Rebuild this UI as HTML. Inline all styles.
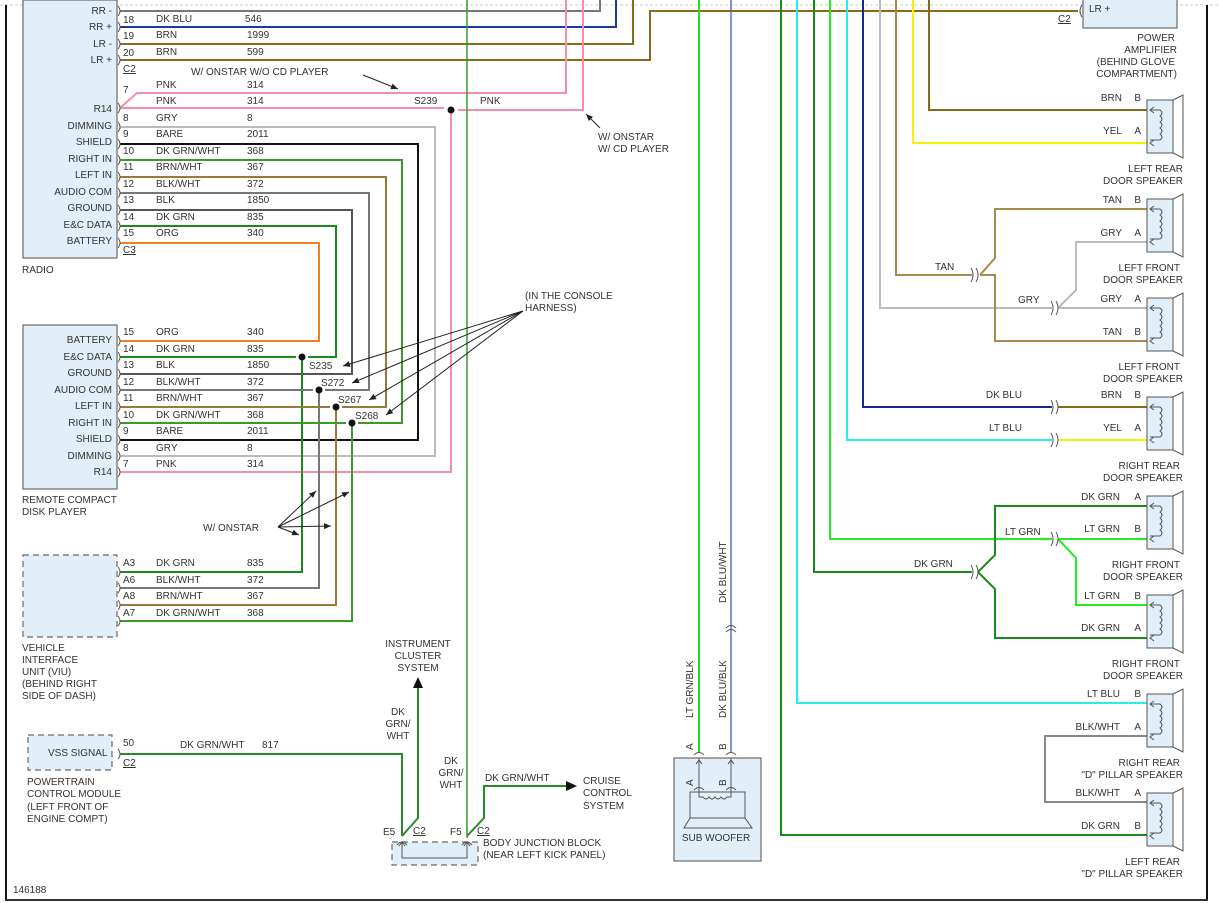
<!DOCTYPE html>
<html><head><meta charset="utf-8"><style>
html,body{margin:0;padding:0;background:#fff}
svg{display:block}
text{font-family:"Liberation Sans",sans-serif;font-size:10px;fill:#333}
.w{fill:none;stroke-width:2}
.c{fill:none;stroke:#555;stroke-width:1}
.box{fill:#e2eff8;stroke:#6a6a6a;stroke-width:1.2}
.dbox{fill:#e2eff8;stroke:#6a6a6a;stroke-width:1.2;stroke-dasharray:6 4}
.r{text-anchor:end}
.m{text-anchor:middle}
</style></head><body>
<svg width="1219" height="903" viewBox="0 0 1219 903" xmlns="http://www.w3.org/2000/svg">
<defs>
<marker id="ar" markerWidth="8" markerHeight="8" refX="7" refY="3" orient="auto"><path d="M0,0 L7,3 L0,6 z" fill="#222"/></marker>
<g id="spk"><rect x="0" y="0" width="26" height="53" fill="#e2eff8" stroke="#555"/><path d="M26,0 L36,-5 L36,58 L26,53" fill="none" stroke="#555"/>
<path d="M3,10 h10 q4,3 0,6 q4,3 0,6 q4,3 0,6 q4,3 0,6 q4,3 0,6 h-10" fill="none" stroke="#555"/>
<path d="M7,7 L3,10 L7,13 M7,40 L3,43 L7,46" fill="none" stroke="#555"/></g>
</defs>
<!-- frame -->
<line x1="0" y1="5" x2="1219" y2="5" stroke="#ccc" stroke-dasharray="3 2"/>
<line x1="6" y1="5" x2="6" y2="900" stroke="#111" stroke-width="2"/>
<line x1="1207" y1="5" x2="1207" y2="900" stroke="#111" stroke-width="2"/>
<line x1="5" y1="900" x2="1208" y2="900" stroke="#333" stroke-width="2"/>

<!-- radio -->
<rect class="box" x="23" y="0" width="94" height="258"/>
<g class="r">
<text x="112" y="14">RR -</text><text x="112" y="30">RR +</text><text x="112" y="47">LR -</text><text x="112" y="63">LR +</text>
<text x="112" y="112">R14</text><text x="112" y="129">DIMMING</text><text x="112" y="145">SHIELD</text><text x="112" y="162">RIGHT IN</text>
<text x="112" y="178">LEFT IN</text><text x="112" y="195">AUDIO COM</text><text x="112" y="211">GROUND</text><text x="112" y="228">E&amp;C DATA</text><text x="112" y="244">BATTERY</text>
</g>
<text x="22" y="273">RADIO</text>
<text x="123" y="23">18</text><text x="156" y="22">DK BLU</text><text x="245" y="22">546</text>
<text x="123" y="39">19</text><text x="156" y="38">BRN</text><text x="247" y="38">1999</text>
<text x="123" y="56">20</text><text x="156" y="55">BRN</text><text x="247" y="55">599</text>
<text x="123" y="72" text-decoration="underline">C2</text>
<text x="191" y="75">W/ ONSTAR W/O CD PLAYER</text>
<text x="123" y="93">7</text><text x="156" y="88">PNK</text><text x="247" y="88">314</text>
<text x="156" y="104">PNK</text><text x="247" y="104">314</text><text x="414" y="104">S239</text><text x="480" y="104">PNK</text>
<text x="123" y="121">8</text><text x="156" y="121">GRY</text><text x="247" y="121">8</text>
<text x="123" y="137">9</text><text x="156" y="137">BARE</text><text x="247" y="137">2011</text>
<text x="123" y="154">10</text><text x="156" y="154">DK GRN/WHT</text><text x="247" y="154">368</text>
<text x="123" y="170">11</text><text x="156" y="170">BRN/WHT</text><text x="247" y="170">367</text>
<text x="123" y="187">12</text><text x="156" y="187">BLK/WHT</text><text x="247" y="187">372</text>
<text x="123" y="203">13</text><text x="156" y="203">BLK</text><text x="247" y="203">1850</text>
<text x="123" y="220">14</text><text x="156" y="220">DK GRN</text><text x="247" y="220">835</text>
<text x="123" y="236">15</text><text x="156" y="236">ORG</text><text x="247" y="236">340</text>
<text x="123" y="253" text-decoration="underline">C3</text>
<text x="598" y="140">W/ ONSTAR</text><text x="598" y="152">W/ CD PLAYER</text>

<!-- top wires -->
<path class="w" stroke="#777" d="M120,11 H600 V0"/>
<path class="w" stroke="#1c3a9a" d="M120,27 H616 V0"/>
<path class="w" stroke="#8a6a1a" d="M120,44 H633 V0"/>
<path class="w" stroke="#8a6a1a" d="M120,60 H650 V11 H1078"/>
<path class="w" stroke="#f58fa8" d="M120,108 L137,93 H566 V0"/>
<path class="w" stroke="#f58fa8" d="M120,108 H444 M458,110 H583 V0"/>
<path class="w" stroke="#f58fa8" d="M451,112 V472 H120"/>
<circle cx="451" cy="110" r="3.5" fill="#111"/>
<line x1="363" y1="75" x2="398" y2="89" stroke="#222" marker-end="url(#ar)"/>
<line x1="600" y1="128" x2="586" y2="114" stroke="#222" marker-end="url(#ar)"/>
<path fill="none" stroke="#3a9a2a" style="stroke-width:1.5" d="M467,0 V838"/>

<path class="w" stroke="#bbb" d="M120,127 H435 V456 H120"/>
<path class="w" stroke="#111" d="M120,144 H418 V440 H120"/>
<path class="w" stroke="#3a9a2a" d="M120,160 H402 V423 H358"/>
<path class="w" stroke="#9a7a3a" d="M120,177 H386 V407 H342"/>
<path class="w" stroke="#777" d="M120,193 H369 V390 H325"/>
<path class="w" stroke="#555" d="M120,210 H352 V374 H120"/>
<path class="w" stroke="#1a8a1a" d="M120,226 H336 V357 H308"/>
<path class="w" stroke="#f08020" d="M120,243 H319 V341 H120"/>

<!-- CD player -->
<rect class="box" x="23" y="325" width="94" height="164"/>
<g class="r">
<text x="112" y="343">BATTERY</text><text x="112" y="360">E&amp;C DATA</text><text x="112" y="376">GROUND</text><text x="112" y="393">AUDIO COM</text>
<text x="112" y="409">LEFT IN</text><text x="112" y="426">RIGHT IN</text><text x="112" y="442">SHIELD</text><text x="112" y="459">DIMMING</text><text x="112" y="475">R14</text>
</g>
<text x="22" y="503">REMOTE COMPACT</text><text x="22" y="515">DISK PLAYER</text>
<text x="123" y="335">15</text><text x="156" y="335">ORG</text><text x="247" y="335">340</text>
<text x="123" y="352">14</text><text x="156" y="352">DK GRN</text><text x="247" y="352">835</text>
<text x="123" y="368">13</text><text x="156" y="368">BLK</text><text x="247" y="368">1850</text>
<text x="123" y="385">12</text><text x="156" y="385">BLK/WHT</text><text x="247" y="385">372</text>
<text x="123" y="401">11</text><text x="156" y="401">BRN/WHT</text><text x="247" y="401">367</text>
<text x="123" y="418">10</text><text x="156" y="418">DK GRN/WHT</text><text x="247" y="418">368</text>
<text x="123" y="434">9</text><text x="156" y="434">BARE</text><text x="247" y="434">2011</text>
<text x="123" y="451">8</text><text x="156" y="451">GRY</text><text x="247" y="451">8</text>
<text x="123" y="467">7</text><text x="156" y="467">PNK</text><text x="247" y="467">314</text>
<path class="w" stroke="#1a8a1a" d="M120,357 H296 M302,360 V572 H120"/>
<path class="w" stroke="#777" d="M120,390 H313 M319,393 V588 H120"/>
<path class="w" stroke="#9a7a3a" d="M120,407 H330 M336,410 V605 H120"/>
<path class="w" stroke="#3a9a2a" d="M120,423 H346 M352,426 V621 H120"/>
<circle cx="302" cy="357" r="3.5" fill="#111"/><circle cx="319" cy="390" r="3.5" fill="#111"/>
<circle cx="336" cy="407" r="3.5" fill="#111"/><circle cx="352" cy="423" r="3.5" fill="#111"/>
<text x="309" y="369">S235</text><text x="321" y="386">S272</text><text x="338" y="403">S267</text><text x="355" y="419">S268</text>
<text x="525" y="299">(IN THE CONSOLE</text><text x="525" y="311">HARNESS)</text>
<g stroke="#222" fill="none">
<line x1="523" y1="311" x2="343" y2="366" marker-end="url(#ar)"/>
<line x1="523" y1="311" x2="352" y2="383" marker-end="url(#ar)"/>
<line x1="523" y1="311" x2="369" y2="400" marker-end="url(#ar)"/>
<line x1="523" y1="311" x2="386" y2="415" marker-end="url(#ar)"/>
<line x1="278" y1="527" x2="316" y2="491" marker-end="url(#ar)"/>
<line x1="278" y1="527" x2="349" y2="492" marker-end="url(#ar)"/>
<line x1="278" y1="527" x2="331" y2="526" marker-end="url(#ar)"/>
<line x1="278" y1="527" x2="299" y2="535" marker-end="url(#ar)"/>
</g>
<text x="203" y="531">W/ ONSTAR</text>

<!-- VIU -->
<rect class="dbox" x="23" y="555" width="94" height="82"/>
<text x="123" y="566">A3</text><text x="156" y="566">DK GRN</text><text x="247" y="566">835</text>
<text x="123" y="583">A6</text><text x="156" y="583">BLK/WHT</text><text x="247" y="583">372</text>
<text x="123" y="599">A8</text><text x="156" y="599">BRN/WHT</text><text x="247" y="599">367</text>
<text x="123" y="616">A7</text><text x="156" y="616">DK GRN/WHT</text><text x="247" y="616">368</text>
<text x="22" y="651">VEHICLE</text><text x="22" y="663">INTERFACE</text><text x="22" y="675">UNIT (VIU)</text><text x="22" y="687">(BEHIND RIGHT</text><text x="22" y="699">SIDE OF DASH)</text>

<!-- connectors radio/cd/viu -->
<g class="c">
<path d="M118,6 q4,5 0,10 M118,22 q4,5 0,10 M118,39 q4,5 0,10 M118,55 q4,5 0,10 M118,103 q4,5 0,10 M118,122 q4,5 0,10 M118,139 q4,5 0,10 M118,155 q4,5 0,10 M118,172 q4,5 0,10 M118,188 q4,5 0,10 M118,205 q4,5 0,10 M118,221 q4,5 0,10 M118,238 q4,5 0,10"/>
<path d="M118,336 q4,5 0,10 M118,352 q4,5 0,10 M118,369 q4,5 0,10 M118,385 q4,5 0,10 M118,402 q4,5 0,10 M118,418 q4,5 0,10 M118,435 q4,5 0,10 M118,451 q4,5 0,10 M118,467 q4,5 0,10"/>
<path d="M118,567 q4,5 0,10 M118,583 q4,5 0,10 M118,600 q4,5 0,10 M118,616 q4,5 0,10 M118,749 q4,5 0,10"/>
</g>

<!-- PCM -->
<rect class="dbox" x="28" y="735" width="84" height="35"/>
<text x="48" y="756">VSS SIGNAL</text>
<text x="123" y="746">50</text><text x="123" y="766" text-decoration="underline">C2</text>
<text x="180" y="748">DK GRN/WHT</text><text x="262" y="748">817</text>
<text x="27" y="785">POWERTRAIN</text><text x="27" y="797">CONTROL MODULE</text><text x="27" y="810">(LEFT FRONT OF</text><text x="27" y="822">ENGINE COMPT)</text>
<path class="w" stroke="#2a8a2a" d="M120,754 H402 V836 M402,836 L418,818 V688"/>
<path d="M418,677 L413,688 L423,688 z" fill="#111"/>
<text class="m" x="418" y="647">INSTRUMENT</text><text class="m" x="418" y="659">CLUSTER</text><text class="m" x="418" y="671">SYSTEM</text>
<text class="m" x="398" y="715">DK</text><text class="m" x="398" y="727">GRN/</text><text class="m" x="398" y="739">WHT</text>
<text class="m" x="451" y="764">DK</text><text class="m" x="451" y="776">GRN/</text><text class="m" x="451" y="788">WHT</text>
<path class="w" stroke="#2a8a2a" d="M467,836 L484,818 V786 H566"/>
<path d="M577,786 L566,781 L566,791 z" fill="#111"/>
<text x="485" y="781">DK GRN/WHT</text>
<text x="583" y="784">CRUISE</text><text x="583" y="796">CONTROL</text><text x="583" y="809">SYSTEM</text>
<rect class="dbox" x="392" y="842" width="86" height="23"/>
<path d="M402,842 V858 H467 V842" fill="none" stroke="#555"/>
<path class="c" d="M397,845 q5,-6 10,0 M462,845 q5,-6 10,0 M399,846 L402,842 L405,846 M464,846 L467,842 L470,846"/>
<text x="383" y="835">E5</text><text x="413" y="834" text-decoration="underline">C2</text>
<text x="450" y="835">F5</text><text x="477" y="834" text-decoration="underline">C2</text>
<text x="483" y="846">BODY JUNCTION BLOCK</text><text x="483" y="858">(NEAR LEFT KICK PANEL)</text>
<text x="13" y="893">146188</text>

<!-- right verticals -->
<path class="w" stroke="#22dd22" d="M699,0 V752"/>
<path fill="none" stroke="#4a5ab0" style="stroke-width:1.3" d="M731,0 V752"/>
<path class="c" d="M726,628 q5,-5 10,0 M726,632 q5,-5 10,0"/>
<path class="w" stroke="#1a8a1a" d="M781,0 V835 H1147"/>
<path class="w" stroke="#22eeee" d="M797,0 V703 H1147"/>
<path class="w" stroke="#1a8a1a" d="M814,0 V572 H972"/>
<path class="w" stroke="#22ee22" d="M830,0 V539 H1052"/>
<path class="w" stroke="#22eeee" d="M847,0 V440 H1052"/>
<path class="w" stroke="#1a2a8a" d="M863,0 V407 H1052"/>
<path class="w" stroke="#bbb" d="M880,0 V308 H1052"/>
<path class="w" stroke="#a88a4a" d="M896,0 V275 H972"/>
<path class="w" stroke="#f4f400" d="M913,0 V143 H1147"/>
<path class="w" stroke="#8a6a1a" d="M929,0 V110 H1147"/>
<!-- splits -->
<path class="w" stroke="#a88a4a" d="M980,275 L995,258 V209 H1147 M980,275 H995 V341 H1147"/>
<path class="w" stroke="#bbb" d="M1058,308 H1147 M1058,308 L1076,290 V242 H1147"/>
<path class="w" stroke="#8a6a1a" d="M1058,407 H1147"/>
<path class="w" stroke="#f4f400" d="M1058,440 H1147"/>
<path class="w" stroke="#22ee22" d="M1058,539 H1147 M1058,539 L1076,558 V605 H1147"/>
<path class="w" stroke="#1a8a1a" d="M978,572 L995,555 V506 H1147 M978,572 L995,589 V638 H1147"/>
<path class="w" stroke="#888" d="M1147,736 H1045 V802 H1147"/>
<g class="c">
<path d="M971,268 q4,7 0,14 M976,268 q4,7 0,14 M1051,301 q4,7 0,14 M1056,301 q4,7 0,14 M1051,400 q4,7 0,14 M1056,400 q4,7 0,14 M1051,433 q4,7 0,14 M1056,433 q4,7 0,14 M1051,532 q4,7 0,14 M1056,532 q4,7 0,14 M971,565 q4,7 0,14 M976,565 q4,7 0,14"/>
</g>
<text x="935" y="270">TAN</text><text x="1018" y="303">GRY</text>
<text class="r" x="1022" y="398">DK BLU</text><text class="r" x="1022" y="431">LT BLU</text>
<text x="1005" y="535">LT GRN</text><text x="914" y="567">DK GRN</text>

<!-- amp -->
<rect class="box" x="1083" y="-2" width="94" height="30"/>
<text x="1089" y="12">LR +</text><path class="c" d="M1082,5 q-4,6 0,12"/>
<text x="1058" y="22" text-decoration="underline">C2</text>
<g class="r"><text x="1175" y="41">POWER</text><text x="1177" y="53">AMPLIFIER</text><text x="1175" y="65">(BEHIND GLOVE</text><text x="1177" y="77">COMPARTMENT)</text></g>

<!-- speakers -->
<use href="#spk" x="1147" y="100"/><use href="#spk" x="1147" y="199"/><use href="#spk" x="1147" y="298"/><use href="#spk" x="1147" y="397"/>
<use href="#spk" x="1147" y="496"/><use href="#spk" x="1147" y="595"/><use href="#spk" x="1147" y="694"/><use href="#spk" x="1147" y="793"/>
<g class="r">
<text x="1122" y="101">BRN</text><text x="1141" y="101">B</text><text x="1122" y="134">YEL</text><text x="1141" y="134">A</text>
<text x="1183" y="172">LEFT REAR</text><text x="1183" y="184">DOOR SPEAKER</text>
<text x="1122" y="203">TAN</text><text x="1141" y="203">B</text><text x="1122" y="236">GRY</text><text x="1141" y="236">A</text>
<text x="1180" y="271">LEFT FRONT</text><text x="1183" y="283">DOOR SPEAKER</text>
<text x="1122" y="302">GRY</text><text x="1141" y="302">A</text><text x="1122" y="335">TAN</text><text x="1141" y="335">B</text>
<text x="1180" y="370">LEFT FRONT</text><text x="1183" y="382">DOOR SPEAKER</text>
<text x="1122" y="398">BRN</text><text x="1141" y="398">B</text><text x="1122" y="431">YEL</text><text x="1141" y="431">A</text>
<text x="1180" y="469">RIGHT REAR</text><text x="1183" y="481">DOOR SPEAKER</text>
<text x="1120" y="500">DK GRN</text><text x="1141" y="500">A</text><text x="1120" y="532">LT GRN</text><text x="1141" y="532">B</text>
<text x="1180" y="568">RIGHT FRONT</text><text x="1183" y="580">DOOR SPEAKER</text>
<text x="1120" y="599">LT GRN</text><text x="1141" y="599">B</text><text x="1120" y="631">DK GRN</text><text x="1141" y="631">A</text>
<text x="1180" y="667">RIGHT FRONT</text><text x="1183" y="679">DOOR SPEAKER</text>
<text x="1120" y="697">LT BLU</text><text x="1141" y="697">B</text><text x="1120" y="730">BLK/WHT</text><text x="1141" y="730">A</text>
<text x="1180" y="766">RIGHT REAR</text><text x="1183" y="778">"D" PILLAR SPEAKER</text>
<text x="1120" y="796">BLK/WHT</text><text x="1141" y="796">A</text><text x="1120" y="829">DK GRN</text><text x="1141" y="829">B</text>
<text x="1180" y="865">LEFT REAR</text><text x="1183" y="877">"D" PILLAR SPEAKER</text>
</g>

<!-- subwoofer -->
<rect class="box" x="674" y="758" width="87" height="103"/>
<rect x="690" y="792" width="55" height="26" fill="none" stroke="#555"/>
<path d="M690,818 L684,828 H752 L745,818" fill="none" stroke="#555"/>
<path d="M699,758 V797 H703 q3,4 6,0 q3,4 6,0 q3,4 6,0 q3,4 6,0 H731 V758" fill="none" stroke="#555"/>
<path class="c" d="M694,755 q5,-5 10,0 M726,755 q5,-5 10,0 M694,790 q5,-5 10,0 M726,790 q5,-5 10,0 M696,764 L699,760 L702,764 M728,764 L731,760 L734,764"/>
<text class="m" x="716" y="841">SUB WOOFER</text>
<text transform="translate(693,750) rotate(-90)">A</text>
<text transform="translate(726,750) rotate(-90)">B</text>
<text transform="translate(693,786) rotate(-90)">A</text>
<text transform="translate(726,786) rotate(-90)">B</text>
<text transform="translate(693,718) rotate(-90)">LT GRN/BLK</text>
<text transform="translate(726,718) rotate(-90)">DK BLU/BLK</text>
<text transform="translate(726,603) rotate(-90)">DK BLU/WHT</text>
</svg>
</body></html>
